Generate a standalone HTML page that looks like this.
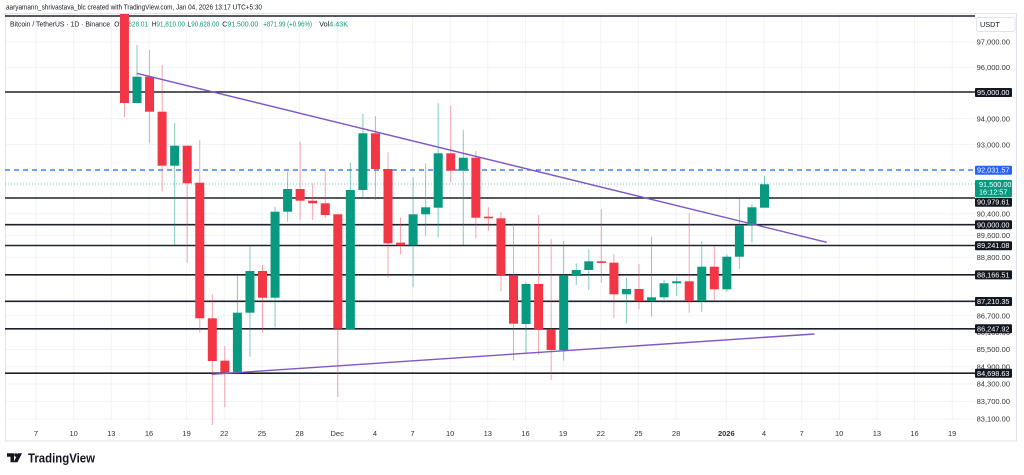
<!DOCTYPE html>
<html>
<head>
<meta charset="utf-8">
<style>
html,body{margin:0;padding:0;background:#fff;}
svg{display:block;}
text{font-family:"Liberation Sans",sans-serif;}
.g{fill:#089981;}
.r{fill:#F23645;}
.wg{stroke:#089981;stroke-opacity:.5;stroke-width:1;}
.wr{stroke:#F23645;stroke-opacity:.45;stroke-width:1;}
.hl{stroke:#1e222d;stroke-width:1.6;}
.grid{stroke:#f0f3fa;stroke-width:1;}
.ax{font-size:7.5px;fill:#333;}
.bx{font-size:7.3px;fill:#fff;}
</style>
</head>
<body>
<svg width="1024" height="475" viewBox="0 0 1024 475" xmlns="http://www.w3.org/2000/svg">
<rect x="0" y="0" width="1024" height="475" fill="#fff"/>

<!-- header line -->
<text x="6" y="9.5" font-size="7" fill="#131722" textLength="256" lengthAdjust="spacingAndGlyphs">aaryamann_shrivastava_blc created with TradingView.com, Jan 04, 2026 13:17 UTC+5:30</text>

<!-- frame -->
<rect x="5.5" y="13.5" width="1011" height="427.5" fill="none" stroke="#e0e3eb" stroke-width="1"/>

<!-- grid vertical -->
<g class="grid">
<line x1="36" y1="14" x2="36" y2="421"/>
<line x1="73.7" y1="14" x2="73.7" y2="421"/>
<line x1="111.3" y1="14" x2="111.3" y2="421"/>
<line x1="149" y1="14" x2="149" y2="421"/>
<line x1="186.6" y1="14" x2="186.6" y2="421"/>
<line x1="224.3" y1="14" x2="224.3" y2="421"/>
<line x1="261.9" y1="14" x2="261.9" y2="421"/>
<line x1="299.6" y1="14" x2="299.6" y2="421"/>
<line x1="337.2" y1="14" x2="337.2" y2="421"/>
<line x1="374.9" y1="14" x2="374.9" y2="421"/>
<line x1="412.5" y1="14" x2="412.5" y2="421"/>
<line x1="450.2" y1="14" x2="450.2" y2="421"/>
<line x1="487.8" y1="14" x2="487.8" y2="421"/>
<line x1="525.5" y1="14" x2="525.5" y2="421"/>
<line x1="563.1" y1="14" x2="563.1" y2="421"/>
<line x1="600.8" y1="14" x2="600.8" y2="421"/>
<line x1="638.4" y1="14" x2="638.4" y2="421"/>
<line x1="676.1" y1="14" x2="676.1" y2="421"/>
<line x1="726.3" y1="14" x2="726.3" y2="421"/>
<line x1="763.9" y1="14" x2="763.9" y2="421"/>
<line x1="801.6" y1="14" x2="801.6" y2="421"/>
<line x1="839.2" y1="14" x2="839.2" y2="421"/>
<line x1="876.9" y1="14" x2="876.9" y2="421"/>
<line x1="914.5" y1="14" x2="914.5" y2="421"/>
<line x1="952.2" y1="14" x2="952.2" y2="421"/>
</g>
<!-- grid horizontal -->
<g class="grid">
<line x1="6" y1="42" x2="975" y2="42"/>
<line x1="6" y1="67.3" x2="975" y2="67.3"/>
<line x1="6" y1="118.6" x2="975" y2="118.6"/>
<line x1="6" y1="144.6" x2="975" y2="144.6"/>
<line x1="6" y1="213.7" x2="975" y2="213.7"/>
<line x1="6" y1="235.4" x2="975" y2="235.4"/>
<line x1="6" y1="257.2" x2="975" y2="257.2"/>
<line x1="6" y1="315.6" x2="975" y2="315.6"/>
<line x1="6" y1="349.5" x2="975" y2="349.5"/>
<line x1="6" y1="366.7" x2="975" y2="366.7"/>
<line x1="6" y1="384" x2="975" y2="384"/>
<line x1="6" y1="401.4" x2="975" y2="401.4"/>
<line x1="6" y1="418.9" x2="975" y2="418.9"/>
</g>

<!-- legend line -->
<text x="10" y="26.5" font-size="7.3" fill="#131722" textLength="100" lengthAdjust="spacingAndGlyphs">Bitcoin / TetherUS · 1D · Binance</text>
<text x="114.3" y="26.5" font-size="7.3" textLength="33.7" lengthAdjust="spacingAndGlyphs"><tspan fill="#131722">O</tspan><tspan fill="#089981">90,628.01</tspan></text>
<text x="151.7" y="26.5" font-size="7.3" textLength="33.3" lengthAdjust="spacingAndGlyphs"><tspan fill="#131722">H</tspan><tspan fill="#089981">91,810.00</tspan></text>
<text x="187.7" y="26.5" font-size="7.3" textLength="31.5" lengthAdjust="spacingAndGlyphs"><tspan fill="#131722">L</tspan><tspan fill="#089981">90,628.00</tspan></text>
<text x="222.3" y="26.5" font-size="7.3" textLength="36" lengthAdjust="spacingAndGlyphs"><tspan fill="#131722">C</tspan><tspan fill="#089981">91,500.00</tspan></text>
<text x="263.3" y="26.5" font-size="7.3" fill="#089981" textLength="48.7" lengthAdjust="spacingAndGlyphs">+871.99 (+0.96%)</text>
<text x="319.3" y="26.5" font-size="7.3" textLength="28.7" lengthAdjust="spacingAndGlyphs"><tspan fill="#131722">Vol</tspan><tspan fill="#089981">4.43K</tspan></text>

<!-- horizontal levels -->
<g class="hl">
<line x1="5" y1="16" x2="975" y2="16"/>
<line x1="5" y1="92" x2="975" y2="92"/>
<line x1="5" y1="198" x2="975" y2="198"/>
<line x1="5" y1="224.7" x2="975" y2="224.7"/>
<line x1="5" y1="245.5" x2="975" y2="245.5"/>
<line x1="5" y1="274.8" x2="975" y2="274.8"/>
<line x1="5" y1="301.3" x2="975" y2="301.3"/>
<line x1="5" y1="328.8" x2="975" y2="328.8"/>
<line x1="5" y1="373.2" x2="975" y2="373.2"/>
</g>
<!-- blue dashed & dotted current price -->
<line x1="5" y1="170" x2="975" y2="170" stroke="#2962ff" stroke-width="1.3" stroke-dasharray="5,4"/>
<line x1="5" y1="184" x2="975" y2="184" stroke="#089981" stroke-opacity=".55" stroke-width="1" stroke-dasharray="1,2"/>

<!-- candles -->
<g transform="translate(0.6,0)">
<line class="wr" x1="123.85" y1="14" x2="123.85" y2="117"/><rect class="r" x="119.35" y="14" width="9" height="89"/>
<line class="wg" x1="136.4" y1="45" x2="136.4" y2="103"/><rect class="g" x="131.9" y="76.7" width="9" height="26.3"/>
<line class="wr" x1="148.95" y1="50" x2="148.95" y2="143"/><rect class="r" x="144.45" y="76.7" width="9" height="35"/>
<line class="wr" x1="161.5" y1="65" x2="161.5" y2="191.7"/><rect class="r" x="157" y="111.7" width="9" height="54"/>
<line class="wg" x1="174.05" y1="123" x2="174.05" y2="245"/><rect class="g" x="169.55" y="145.7" width="9" height="20"/>
<line class="wr" x1="186.6" y1="145.7" x2="186.6" y2="262.7"/><rect class="r" x="182.1" y="145.7" width="9" height="37.6"/>
<line class="wr" x1="199.15" y1="140" x2="199.15" y2="332.7"/><rect class="r" x="194.65" y="182.7" width="9" height="135.6"/>
<line class="wr" x1="211.7" y1="294" x2="211.7" y2="425"/><rect class="r" x="207.2" y="318.3" width="9" height="42.7"/>
<line class="wr" x1="224.25" y1="346" x2="224.25" y2="407.3"/><rect class="r" x="219.75" y="360.7" width="9" height="11.6"/>
<line class="wg" x1="236.8" y1="275.7" x2="236.8" y2="372.3"/><rect class="g" x="232.3" y="312.7" width="9" height="59.6"/>
<line class="wg" x1="249.35" y1="245.7" x2="249.35" y2="356.7"/><rect class="g" x="244.85" y="271" width="9" height="41.7"/>
<line class="wr" x1="261.9" y1="265" x2="261.9" y2="332.3"/><rect class="r" x="257.4" y="271" width="9" height="26.7"/>
<line class="wg" x1="274.45" y1="206.7" x2="274.45" y2="327.3"/><rect class="g" x="269.95" y="211.7" width="9" height="86"/>
<line class="wg" x1="287" y1="171.7" x2="287" y2="221.7"/><rect class="g" x="282.5" y="189" width="9" height="22.7"/>
<line class="wr" x1="299.55" y1="141.7" x2="299.55" y2="220"/><rect class="r" x="295.05" y="189" width="9" height="11.7"/>
<line class="wr" x1="312.1" y1="183.3" x2="312.1" y2="220"/><rect class="r" x="307.6" y="200.7" width="9" height="2.6"/>
<line class="wr" x1="324.65" y1="170" x2="324.65" y2="218"/><rect class="r" x="320.15" y="203.3" width="9" height="11.7"/>
<line class="wr" x1="337.2" y1="214.3" x2="337.2" y2="397"/><rect class="r" x="332.7" y="214.3" width="9" height="114.4"/>
<line class="wg" x1="349.75" y1="162.7" x2="349.75" y2="330"/><rect class="g" x="345.25" y="190" width="9" height="139.3"/>
<line class="wg" x1="362.3" y1="114" x2="362.3" y2="198.3"/><rect class="g" x="357.8" y="133.3" width="9" height="56.7"/>
<line class="wr" x1="374.85" y1="116" x2="374.85" y2="200"/><rect class="r" x="370.35" y="133.3" width="9" height="35.7"/>
<line class="wr" x1="387.4" y1="152.3" x2="387.4" y2="277.7"/><rect class="r" x="382.9" y="169" width="9" height="74.3"/>
<line class="wr" x1="399.95" y1="217.3" x2="399.95" y2="254.3"/><rect class="r" x="395.45" y="242.7" width="9" height="2.6"/>
<line class="wg" x1="412.5" y1="177.3" x2="412.5" y2="287.3"/><rect class="g" x="408" y="214.3" width="9" height="31"/>
<line class="wg" x1="425.05" y1="163.3" x2="425.05" y2="235.7"/><rect class="g" x="420.55" y="207.3" width="9" height="7"/>
<line class="wg" x1="437.6" y1="103.3" x2="437.6" y2="237.7"/><rect class="g" x="433.1" y="153.3" width="9" height="54.4"/>
<line class="wr" x1="450.15" y1="106" x2="450.15" y2="182.3"/><rect class="r" x="445.65" y="153.3" width="9" height="17.4"/>
<line class="wg" x1="462.7" y1="130" x2="462.7" y2="245"/><rect class="g" x="458.2" y="157.7" width="9" height="13"/>
<line class="wr" x1="475.25" y1="151" x2="475.25" y2="238.3"/><rect class="r" x="470.75" y="157.7" width="9" height="60"/>
<line class="wr" x1="487.8" y1="207.3" x2="487.8" y2="230.7"/><rect class="r" x="483.3" y="216.7" width="9" height="1.6"/>
<line class="wr" x1="500.35" y1="212.3" x2="500.35" y2="291.3"/><rect class="r" x="495.85" y="218.3" width="9" height="56.7"/>
<line class="wr" x1="512.9" y1="223.3" x2="512.9" y2="360.5"/><rect class="r" x="508.4" y="275.7" width="9" height="48"/>
<line class="wg" x1="525.45" y1="282" x2="525.45" y2="353.3"/><rect class="g" x="520.95" y="284" width="9" height="40"/>
<line class="wr" x1="538" y1="215" x2="538" y2="355"/><rect class="r" x="533.5" y="284" width="9" height="45"/>
<line class="wr" x1="550.55" y1="239" x2="550.55" y2="380"/><rect class="r" x="546.05" y="329.3" width="9" height="20.7"/>
<line class="wg" x1="563.1" y1="241" x2="563.1" y2="360.7"/><rect class="g" x="558.6" y="275.7" width="9" height="74.3"/>
<line class="wg" x1="575.65" y1="263.3" x2="575.65" y2="285"/><rect class="g" x="571.15" y="270" width="9" height="6"/>
<line class="wg" x1="588.2" y1="249.3" x2="588.2" y2="290"/><rect class="g" x="583.7" y="261.3" width="9" height="8.7"/>
<line class="wr" x1="600.75" y1="209" x2="600.75" y2="282.7"/><rect class="r" x="596.25" y="261.3" width="9" height="1.6"/>
<line class="wr" x1="613.3" y1="254" x2="613.3" y2="318.3"/><rect class="r" x="608.8" y="262.7" width="9" height="31.6"/>
<line class="wg" x1="625.85" y1="277.7" x2="625.85" y2="323.3"/><rect class="g" x="621.35" y="289" width="9" height="5.3"/>
<line class="wr" x1="638.4" y1="264" x2="638.4" y2="309.3"/><rect class="r" x="633.9" y="289" width="9" height="12"/>
<line class="wg" x1="650.95" y1="236.7" x2="650.95" y2="316.7"/><rect class="g" x="646.45" y="297.3" width="9" height="3.7"/>
<line class="wg" x1="663.5" y1="280" x2="663.5" y2="300"/><rect class="g" x="659" y="283.3" width="9" height="14"/>
<line class="wg" x1="676.05" y1="276.7" x2="676.05" y2="296"/><rect class="g" x="671.55" y="281.3" width="9" height="2"/>
<line class="wr" x1="688.6" y1="213.3" x2="688.6" y2="312.7"/><rect class="r" x="684.1" y="281.3" width="9" height="19.7"/>
<line class="wg" x1="701.15" y1="241" x2="701.15" y2="311.7"/><rect class="g" x="696.65" y="266.7" width="9" height="34.3"/>
<line class="wr" x1="713.7" y1="246.7" x2="713.7" y2="300.7"/><rect class="r" x="709.2" y="266.7" width="9" height="22.6"/>
<line class="wg" x1="726.25" y1="254.3" x2="726.25" y2="291.7"/><rect class="g" x="721.75" y="256.7" width="9" height="32.6"/>
<line class="wg" x1="738.8" y1="198.3" x2="738.8" y2="269"/><rect class="g" x="734.3" y="225" width="9" height="31.7"/>
<line class="wg" x1="751.35" y1="204.3" x2="751.35" y2="242.7"/><rect class="g" x="746.85" y="207.3" width="9" height="17.7"/>
<line class="wg" x1="763.9" y1="175.7" x2="763.9" y2="207.7"/><rect class="g" x="759.4" y="184.3" width="9" height="23.4"/>
</g>

<!-- trend lines -->
<line x1="136.7" y1="73.3" x2="826.7" y2="242.3" stroke="#7e57c2" stroke-width="1.4"/>
<line x1="211.7" y1="374.3" x2="814.3" y2="334" stroke="#7e57c2" stroke-width="1.4"/>

<!-- price axis -->
<rect x="976.5" y="17.5" width="38.5" height="14" rx="2" fill="#fff" stroke="#e0e3eb"/>
<text x="980" y="27" font-size="7.3" fill="#131722">USDT</text>

<g class="ax" text-anchor="end">
<text x="1010" y="44.7">97,000.00</text>
<text x="1010" y="70">96,000.00</text>
<text x="1010" y="121.3">94,000.00</text>
<text x="1010" y="147.3">93,000.00</text>
<text x="1010" y="216.4">90,400.00</text>
<text x="1010" y="238.1">89,600.00</text>
<text x="1010" y="259.9">88,800.00</text>
<text x="1010" y="318.3">86,700.00</text>
<text x="1010" y="335.2">86,100.00</text>
<text x="1010" y="352.2">85,500.00</text>
<text x="1010" y="369.4">84,900.00</text>
<text x="1010" y="386.7">84,300.00</text>
<text x="1010" y="404.1">83,700.00</text>
<text x="1010" y="421.6">83,100.00</text>
</g>

<!-- level label boxes -->
<g>
<rect x="975" y="88" width="37" height="9" rx="1" fill="#131722"/>
<rect x="975" y="165.7" width="37" height="9" rx="1" fill="#2962ff"/>
<rect x="975" y="180" width="37" height="17" rx="1" fill="#089981"/>
<rect x="975" y="197.7" width="37" height="9" rx="1" fill="#131722"/>
<rect x="975" y="220.3" width="37" height="9" rx="1" fill="#131722"/>
<rect x="975" y="241.2" width="37" height="9" rx="1" fill="#131722"/>
<rect x="975" y="270.4" width="37" height="9" rx="1" fill="#131722"/>
<rect x="975" y="297" width="37" height="9" rx="1" fill="#131722"/>
<rect x="975" y="324.3" width="37" height="9" rx="1" fill="#131722"/>
<rect x="975" y="368.8" width="37" height="9" rx="1" fill="#131722"/>
</g>
<g class="bx" text-anchor="end">
<text x="1009.5" y="95">95,000.00</text>
<text x="1009.5" y="172.7">92,031.57</text>
<text x="1009.5" y="204.7">90,979.61</text>
<text x="1009.5" y="227.3">90,000.00</text>
<text x="1009.5" y="248.2">89,241.08</text>
<text x="1009.5" y="277.4">88,166.51</text>
<text x="1009.5" y="304">87,210.35</text>
<text x="1009.5" y="331.3">86,247.92</text>
<text x="1009.5" y="375.8">84,698.63</text>
</g>
<text x="979" y="187" class="bx">91,500.00</text>
<text x="979" y="194.5" class="bx">16:12:57</text>

<!-- time axis -->
<g class="ax" text-anchor="middle">
<text x="36" y="436">7</text>
<text x="73.7" y="436">10</text>
<text x="111.3" y="436">13</text>
<text x="149" y="436">16</text>
<text x="186.6" y="436">19</text>
<text x="224.3" y="436">22</text>
<text x="261.9" y="436">25</text>
<text x="299.6" y="436">28</text>
<text x="337.2" y="436">Dec</text>
<text x="374.9" y="436">4</text>
<text x="412.5" y="436">7</text>
<text x="450.2" y="436">10</text>
<text x="487.8" y="436">13</text>
<text x="525.5" y="436">16</text>
<text x="563.1" y="436">19</text>
<text x="600.8" y="436">22</text>
<text x="638.4" y="436">25</text>
<text x="676.1" y="436">28</text>
<text x="726.3" y="436" font-weight="bold">2026</text>
<text x="763.9" y="436">4</text>
<text x="801.6" y="436">7</text>
<text x="839.2" y="436">10</text>
<text x="876.9" y="436">13</text>
<text x="914.5" y="436">16</text>
<text x="952.2" y="436">19</text>
</g>

<!-- TradingView logo -->
<g fill="#131722">
<path d="M7 453.3 H14 V462.3 H10.5 V456.8 H7 Z"/>
<circle cx="15.9" cy="455" r="1.7"/>
<path d="M18 453.3 H22 L17.5 462.3 H13.6 Z"/>
</g>
<text x="28" y="462.5" font-size="13" font-weight="bold" fill="#131722" textLength="67" lengthAdjust="spacingAndGlyphs">TradingView</text>
</svg>
</body>
</html>
